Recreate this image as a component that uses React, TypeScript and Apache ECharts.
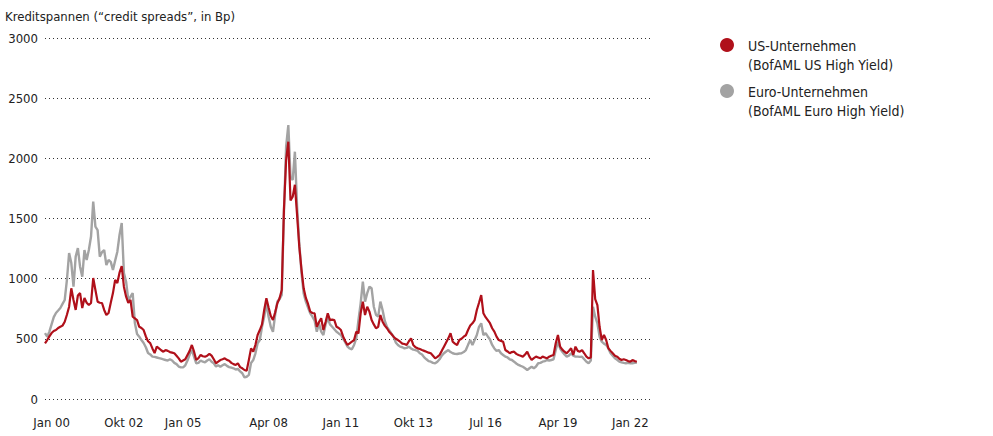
import React, { useEffect, useRef } from "react";
import * as echarts from "echarts";

// German month abbreviations used for the category names
const monthNames = ["Jan", "Feb", "Mär", "Apr", "Mai", "Jun", "Jul", "Aug", "Sep", "Okt", "Nov", "Dez"];
// months relative to Jan 2000 (first point Oct 1999, axis runs to Okt 2022)
const firstMonth = -3;
const lastMonth = 273;

const tickLabels = ["Jan 00", "Okt 02", "Jan 05", "Apr 08", "Jan 11", "Okt 13", "Jul 16", "Apr 19", "Jan 22"];

// US high yield spreads (bp), monthly from Oct 1999
const usSpreads = [
  463, 490, 520,
  548, 565, 573, 590, 600, 610, 642, 700, 767, 920, 823, 740,
  860, 880, 756, 839, 800, 781, 798, 1005, 906, 809, 800, 798,
  740, 698, 715, 800, 880, 989, 964, 1050, 1105, 933, 850, 798,
  823, 684, 670, 656, 600, 590, 573, 520, 480, 465, 420, 382,
  435, 421, 405, 393, 407, 400, 390, 385, 380, 360, 338, 310,
  320, 330, 366, 400, 449, 393, 324, 340, 366, 355, 352, 360,
  374, 360, 330, 297, 310, 324, 330, 338, 325, 318, 300, 290,
  283, 297, 265, 255, 241, 235, 324, 421, 393, 450, 532, 573,
  620, 740, 837, 760, 690, 656, 720, 795, 837, 906, 1571, 1986,
  2138, 1650, 1681, 1780, 1530, 1266, 1080, 920, 840, 790, 726, 715,
  712, 600, 640, 671, 573, 640, 712, 656, 660, 656, 600, 590,
  573, 520, 480, 449, 463, 476, 490, 559, 546, 712, 809, 698,
  767, 726, 656, 620, 588, 600, 698, 642, 610, 588, 559, 540,
  518, 500, 490, 476, 460, 457, 449, 480, 504, 449, 430, 421,
  415, 407, 400, 393, 385, 380, 360, 338, 350, 366, 400, 435,
  470, 504, 546, 476, 460, 449, 490, 500, 518, 530, 573, 610,
  629, 656, 740, 800, 864, 712, 680, 656, 630, 588, 560, 518,
  490, 483, 476, 407, 395, 380, 390, 393, 375, 366, 360, 352,
  370, 393, 352, 324, 340, 352, 345, 338, 352, 345, 338, 352,
  360, 366, 463, 532, 435, 410, 393, 380, 400, 421, 366, 435,
  400, 393, 407, 380, 352, 338, 345, 1072, 830, 781, 600, 490,
  532, 490, 421, 400, 380, 360, 352, 335, 324, 330, 324, 315,
  310, 324, 315, 310,
];

// Euro high yield spreads (bp), monthly from Oct 1999
const euroSpreads = [
  548, 518, 560,
  620, 680, 715, 735, 756, 790, 823, 989, 1213, 1130, 933, 1183,
  1254, 1100, 1017, 1238, 1155, 1238, 1350, 1640, 1432, 1404, 1183, 1220,
  1238, 1113, 1155, 1140, 1072, 1150, 1224, 1363, 1462, 1047, 975, 823,
  850, 880, 631, 540, 518, 490, 465, 430, 382, 370, 352, 350,
  345, 340, 335, 330, 324, 320, 330, 320, 300, 290, 270, 263,
  263, 280, 320, 370, 407, 350, 297, 300, 320, 310, 305, 320,
  330, 310, 297, 270, 280, 268, 280, 290, 275, 265, 260, 255,
  245, 250, 230, 214, 180, 185, 200, 300, 324, 380, 463, 490,
  600, 684, 795, 684, 600, 559, 700, 809, 830, 864, 1550, 2097,
  2277, 1847, 1820, 2055, 1600, 1294, 1050, 878, 809, 760, 712, 684,
  650, 559, 629, 560, 532, 620, 671, 620, 600, 580, 559, 545,
  532, 500, 470, 435, 420, 413, 449, 504, 656, 795, 975, 809,
  880, 933, 920, 767, 700, 684, 809, 740, 650, 600, 573, 545,
  518, 470, 449, 435, 430, 421, 425, 435, 420, 410, 407, 400,
  380, 370, 346, 330, 315, 310, 300, 297, 310, 330, 360, 380,
  395, 407, 390, 380, 375, 374, 378, 380, 390, 407, 450, 490,
  449, 490, 532, 600, 629, 532, 546, 520, 495, 449, 420, 400,
  407, 380, 366, 352, 345, 330, 324, 310, 295, 283, 275, 268,
  255, 241, 255, 268, 255, 270, 297, 300, 310, 315, 324, 320,
  324, 330, 407, 476, 420, 393, 370, 352, 360, 380, 360, 352,
  352, 350, 352, 330, 310, 297, 320, 767, 684, 629, 518, 476,
  460, 449, 420, 380, 360, 338, 325, 310, 305, 300, 297, 300,
  297, 297, 300, 303,
];

const seriesNames = ["US-Unternehmen", "Euro-Unternehmen"];
const seriesSubNames = ["(BofAML US High Yield)", "(BofAML Euro High Yield)"];
const colors = ["#B0101A", "#A3A3A3"];

const titleText = "Kreditspannen (“credit spreads”, in Bp)";

const categories: string[] = [];
for (let m = firstMonth; m <= lastMonth; m++) {
  const y = 2000 + Math.floor(m / 12);
  const mi = ((m % 12) + 12) % 12;
  categories.push(monthNames[mi] + " " + String(y % 100).padStart(2, "0"));
}

const FONT = "'Liberation Sans Narrow', 'DejaVu Sans Condensed', 'Noto Sans', sans-serif";

export default function App() {
  const ref = useRef<HTMLDivElement>(null);
  useEffect(() => {
    if (!ref.current) return;
    const chart = echarts.init(ref.current, null, { renderer: "svg" });
    const legendGraphics: any[] = [];
    seriesNames.forEach((name, i) => {
      const cy = 45 + i * 46;
      legendGraphics.push({
        type: "circle",
        shape: { cx: 727, cy, r: 7 },
        style: { fill: colors[i] },
      });
      legendGraphics.push({
        type: "text",
        left: 748,
        top: cy - 9,
        style: {
          text: name + "\n" + seriesSubNames[i],
          fill: "#222",
          font: `14px ${FONT}`,
          lineHeight: 19,
          verticalAlign: "top",
        },
      });
    });
    chart.setOption({
      animation: false,
      textStyle: { fontFamily: FONT },
      title: {
        text: titleText,
        left: 0,
        top: 5,
        textStyle: { fontSize: 13, fontWeight: "normal", color: "#222", fontFamily: FONT },
      },
      grid: { left: 45, right: 343, top: 38, bottom: 37, containLabel: false },
      xAxis: {
        type: "category",
        data: categories,
        boundaryGap: false,
        axisLine: { show: false },
        axisTick: { show: false },
        splitLine: { show: false },
        axisLabel: {
          interval: (_idx: number, val: string) => tickLabels.includes(val),
          margin: 17,
          fontSize: 13,
          color: "#222",
          fontFamily: FONT,
        },
      },
      yAxis: {
        type: "value",
        min: 0,
        max: 3000,
        interval: 500,
        axisLine: { show: false },
        axisTick: { show: false },
        axisLabel: {
          margin: 7,
          fontSize: 13,
          color: "#222",
          fontFamily: FONT,
          formatter: (v: number) => String(v),
        },
        splitLine: { lineStyle: { type: [1, 3], color: "#333", width: 1 } },
      },
      series: [
        {
          name: seriesNames[1],
          type: "line",
          data: euroSpreads,
          showSymbol: false,
          symbol: "none",
          lineStyle: { color: colors[1], width: 2.4 },
          itemStyle: { color: colors[1] },
          z: 2,
        },
        {
          name: seriesNames[0],
          type: "line",
          data: usSpreads,
          showSymbol: false,
          symbol: "none",
          lineStyle: { color: colors[0], width: 2.2 },
          itemStyle: { color: colors[0] },
          z: 3,
        },
      ],
      graphic: legendGraphics,
    });
    return () => chart.dispose();
  }, []);
  return (
    <div
      ref={ref}
      style={{ position: "fixed", left: 0, top: 0, width: 993, height: 436, background: "#fff" }}
    />
  );
}
